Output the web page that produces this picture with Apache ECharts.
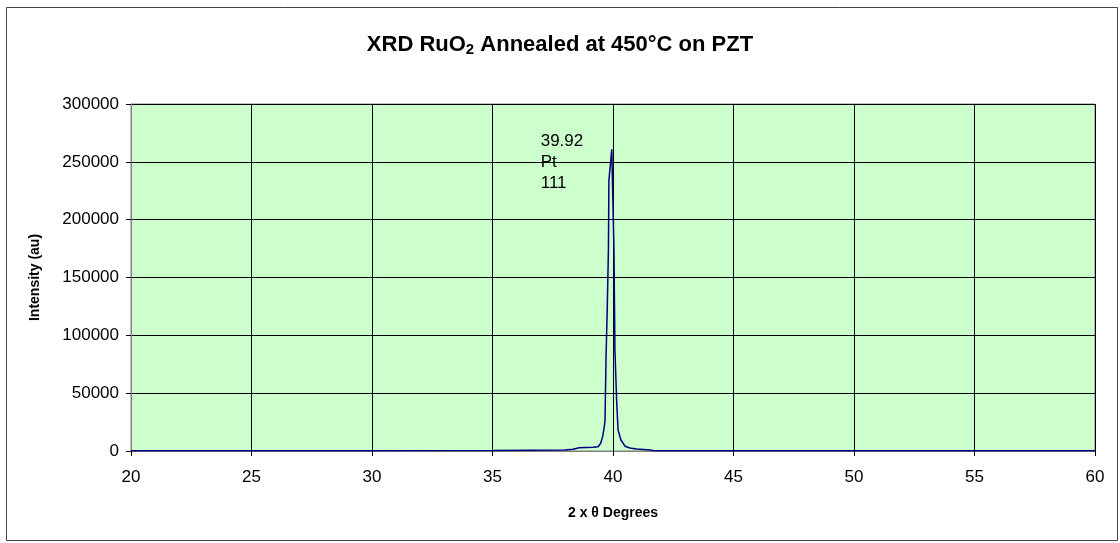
<!DOCTYPE html>
<html>
<head>
<meta charset="utf-8">
<script src="https://cdn.jsdelivr.net/npm/echarts@6/dist/echarts.min.js"></script>
<style>html,body{margin:0;padding:0;background:#fff;}#c{width:1120px;height:543px;}</style>
</head>
<body>
<div id="c"></div>
<script>
// 2θ (degrees) and intensity (au)
const twoTheta = [20, 25, 30, 35, 38.0, 38.34, 38.6, 39.17, 39.38, 39.49, 39.57, 39.64, 39.67, 39.71, 39.76, 39.81, 39.83, 39.95, 39.97, 40.04, 40.08, 40.15, 40.21, 40.33, 40.50, 40.70, 40.98, 41.54, 41.7, 45, 50, 55, 60];
const intensity = [300, 300, 300, 350, 800, 1500, 2800, 3200, 3700, 6700, 12400, 21000, 26800, 80000, 122000, 174000, 234000, 260900, 240400, 174000, 87000, 44000, 18200, 9500, 4100, 2600, 1700, 860, 300, 300, 300, 300, 300];
const xTicks = [20, 25, 30, 35, 40, 45, 50, 55, 60];
const yTicks = [0, 50000, 100000, 150000, 200000, 250000, 300000];
const peakLabel = ['39.92', 'Pt', '111'];
const peakLabelAt = [37.0, 250000];

const chart = echarts.init(document.getElementById('c'));
const font = '"Liberation Sans", Arial, sans-serif';
chart.setOption({
  animation: false,
  backgroundColor: '#ffffff',
  title: {
    text: '{a|XRD RuO}{s|2}{a| Annealed at 450°C on PZT}',
    left: 'center',
    top: 27,
    textStyle: {
      rich: {
        a: { fontFamily: font, fontWeight: 'bold', fontSize: 22, color: '#000' },
        s: { fontFamily: font, fontWeight: 'bold', fontSize: 15, color: '#000', verticalAlign: 'bottom', padding: [10, 0, 0, 0] }
      }
    }
  },
  graphic: [{
    type: 'rect', left: 4, top: 5, shape: { width: 1111, height: 533 },
    style: { fill: 'none', stroke: '#444', lineWidth: 1 }, silent: true, z: -1
  }],
  grid: { left: 131, right: 25, top: 104, bottom: 92, show: true, backgroundColor: '#CCFFCC', borderColor: '#808080', borderWidth: 1 },
  xAxis: {
    type: 'value', min: xTicks[0], max: xTicks[xTicks.length - 1], interval: 5,
    name: '2 x θ Degrees', nameLocation: 'middle', nameGap: 55,
    nameTextStyle: { fontFamily: font, fontWeight: 'bold', fontSize: 14, color: '#000' },
    axisLine: { show: true, lineStyle: { color: '#808080' } },
    axisTick: { show: true, inside: false, length: 5, lineStyle: { color: '#000' } },
    axisLabel: { fontFamily: font, fontSize: 17, color: '#000', margin: 18 },
    splitLine: { show: true, lineStyle: { color: '#000', width: 1 } }
  },
  yAxis: {
    type: 'value', min: yTicks[0], max: yTicks[yTicks.length - 1], interval: 50000,
    name: 'Intensity (au)', nameLocation: 'middle', nameGap: 89, nameRotate: 90,
    nameTextStyle: { fontFamily: font, fontWeight: 'bold', fontSize: 14, color: '#000' },
    axisLine: { show: true, lineStyle: { color: '#808080' } },
    axisTick: { show: true, length: 5, lineStyle: { color: '#000' } },
    axisLabel: { fontFamily: font, fontSize: 17, color: '#000', margin: 12, formatter: v => String(v) },
    splitLine: { show: true, lineStyle: { color: '#000', width: 1 } }
  },
  series: [{
    type: 'line',
    data: twoTheta.map((x, i) => [x, intensity[i]]),
    showSymbol: false,
    symbol: 'none',
    lineStyle: { color: '#000080', width: 1.5 },
    itemStyle: { color: '#000080' },
    markPoint: {
      symbol: 'circle', symbolSize: 0,
      data: [{ coord: peakLabelAt }],
      label: {
        show: true, position: 'right', distance: 0,
        formatter: peakLabel.join('\n'),
        fontFamily: font, fontSize: 17, color: '#000', lineHeight: 21, align: 'left'
      }
    }
  }]
});
</script>
</body>
</html>
